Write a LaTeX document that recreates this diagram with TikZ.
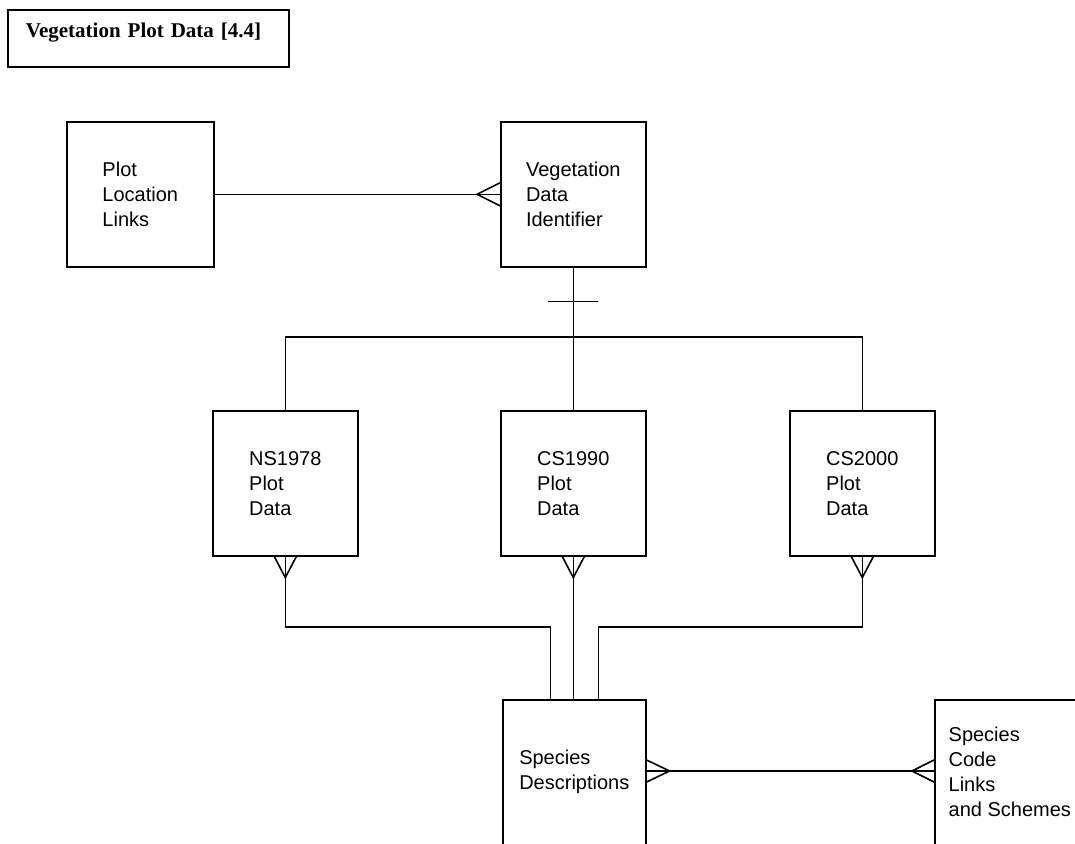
\documentclass[tikz,border=0pt]{standalone}
\usepackage{fontspec}
\setmainfont{Liberation Sans}
\newfontfamily\titlefont{Liberation Serif}
\usetikzlibrary{calc}

\begin{document}
\begin{tikzpicture}[x=1pt, y=-1pt, line width=1.6pt,
  entity/.style={draw, rectangle, align=left, inner sep=0pt,
    minimum width=#1, minimum height=145pt,
    font=\fontsize{20}{25}\selectfont},
  entity/.default=145pt,
  titlebox/.style={draw, rectangle, align=left, inner xsep=18pt, inner ysep=0pt,
    text width=245pt, text height=15pt, text depth=16pt,
    minimum height=57pt,
    font=\titlefont\bfseries\fontsize{21}{25}\selectfont}]

  \useasboundingbox (0,0) rectangle (1075,843);
  \clip (0,0) rectangle (1075,843);

  % heading
  \node[titlebox, anchor=north west] (title) at (7,9) {Vegetation Plot Data [4.4]};

  % entities
  \node[entity=147pt, anchor=north west] (pll)  at (66,121)  {Plot\\Location\\Links};
  \node[entity, anchor=north west]       (vdi)  at (500,121) {Vegetation\\Data\\Identifier};
  \node[entity, anchor=north west]       (ns)   at (212,410) {NS1978\\Plot\\Data};
  \node[entity, anchor=north west]       (cs90) at (500,410) {CS1990\\Plot\\Data};
  \node[entity, anchor=north west]       (cs00) at (789,410) {CS2000\\Plot\\Data};
  \node[entity=143pt, anchor=north west] (sd)   at (502,699) {Species\\Descriptions};
  \node[entity=150pt, anchor=north west] (sc)   at (934,699) {Species\\Code\\Links\\and Schemes};

  % helper levels
  \coordinate (bus)  at (0,337);
  \coordinate (join) at (0,627);
  \coordinate (lk)   at (0,771);
  \coordinate (sdL)  at ($(sd.north)+(-24,0)$);
  \coordinate (sdR)  at ($(sd.north)+(24,0)$);
  \coordinate (sdE)  at (sd.east |- lk);
  \coordinate (scW)  at (sc.west |- lk);

  % Plot Location Links -- Vegetation Data Identifier (many)
  \draw (pll.east) -- (vdi.west);
  \draw ($(vdi.west)+(0,-11.5)$) -- ($(vdi.west)+(-23,0)$) -- ($(vdi.west)+(0,11.5)$);

  % identifier to the three plot data sets
  \draw (vdi.south) -- (vdi.south |- cs90.north);
  \draw ($(vdi.south)+(-25,34)$) -- ($(vdi.south)+(25,34)$);
  \draw (ns.north) -- (ns.north |- bus) -- (cs00.north |- bus) -- (cs00.north);

  % plot data sets to species descriptions
  \draw (ns.south) |- (sdL |- join) -- (sdL);
  \draw (cs90.south) -- (cs90.south |- sd.north);
  \draw (cs00.south) |- (sdR |- join) -- (sdR);
  \foreach \e in {ns, cs90, cs00}{
    \draw ($(\e.south)+(-11,0)$) -- ($(\e.south)+(0,21)$) -- ($(\e.south)+(11,0)$);
  }

  % species descriptions -- species code links (many to many)
  \draw (sdE) -- (scW);
  \draw ($(sdE)+(0,-11)$) -- ($(sdE)+(23,0)$) -- ($(sdE)+(0,11)$);
  \draw ($(scW)+(0,-11)$) -- ($(scW)+(-22,0)$) -- ($(scW)+(0,11)$);
\end{tikzpicture}
\end{document}
